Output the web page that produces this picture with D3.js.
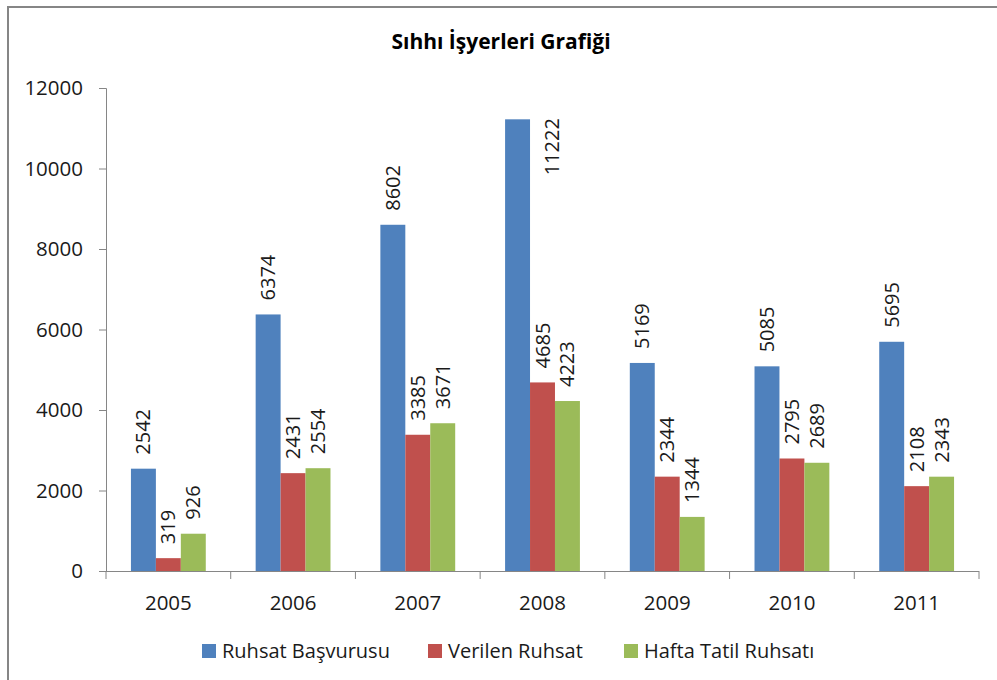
<!DOCTYPE html>
<html>
<head>
<meta charset="utf-8">
<script src="https://cdn.jsdelivr.net/npm/d3@7/dist/d3.min.js"></script>
<style>
    body { margin: 0; background: #fff; }
    text { font-family: "Open Sans", "DejaVu Sans", sans-serif; }
</style>
</head>
<body>
<svg id="chart"></svg>
<script>
// chart data
const years = ["2005", "2006", "2007", "2008", "2009", "2010", "2011"];
const seriesNames = ["Ruhsat Başvurusu", "Verilen Ruhsat", "Hafta Tatil Ruhsatı"];
const ruhsatBasvurusu = [2542, 6374, 8602, 11222, 5169, 5085, 5695];
const verilenRuhsat = [319, 2431, 3385, 4685, 2344, 2795, 2108];
const haftaTatilRuhsati = [926, 2554, 3671, 4223, 1344, 2689, 2343];
const yTicks = [0, 2000, 4000, 6000, 8000, 10000, 12000];
const colors = ["#4F81BD", "#C0504D", "#9BBB59"];

const W = 997, H = 680;
const margin = {top: 88, right: 18, bottom: 109, left: 106};
const width = W - margin.left - margin.right;
const height = H - margin.top - margin.bottom;

const allSeries = [ruhsatBasvurusu, verilenRuhsat, haftaTatilRuhsati];
let rows = [];
years.forEach((yr, i) => {
    seriesNames.forEach((s, j) => {
        rows.push({year: yr, series: s, idx: j, value: allSeries[j][i]});
    });
});

const svg = d3.select("#chart")
    .attr("width", W)
    .attr("height", H);

// outer frame (runs off the right and bottom like the screenshot)
svg.append("rect")
    .attr("x", 8).attr("y", 7)
    .attr("width", 1100).attr("height", 800)
    .attr("fill", "none")
    .attr("stroke", "#868686")
    .attr("stroke-width", 2);

svg.append("text")
    .attr("x", 501)
    .attr("y", 49)
    .attr("text-anchor", "middle")
    .style("font-size", "21px")
    .style("font-weight", "bold")
    .attr("fill", "#000")
    .text("Sıhhı İşyerleri Grafiği");

const g = svg.append("g")
    .attr("transform", `translate(${margin.left},${margin.top})`);

const x0 = d3.scaleBand()
    .domain(years)
    .range([0, width])
    .padding(0);

const x1 = d3.scaleBand()
    .domain(seriesNames)
    .range([x0.bandwidth() * 0.2, x0.bandwidth() * 0.8]);

const y = d3.scaleLinear()
    .domain([0, 12000])
    .range([height, 0]);

// y axis
const yAxis = g.append("g")
    .call(d3.axisLeft(y).tickValues(yTicks).tickSize(7).tickPadding(16).tickFormat(d3.format("d")));
yAxis.selectAll("text").style("font-size", "20.5px").attr("fill", "#1a1a1a");
yAxis.selectAll("line, path").attr("stroke", "#868686");
yAxis.select(".domain").attr("d", `M-7,0.5H0.5V${height}`);

// bars
g.selectAll("rect.bar")
    .data(rows)
    .join("rect")
    .attr("class", "bar")
    .attr("x", d => x0(d.year) + x1(d.series))
    .attr("y", d => y(d.value))
    .attr("width", x1.bandwidth())
    .attr("height", d => height - y(d.value))
    .attr("fill", d => colors[d.idx]);

// x axis, ticks between the categories
const xAxis = g.append("g")
    .attr("transform", `translate(0,${height})`)
    .call(d3.axisBottom(x0).tickSize(0).tickPadding(24));
xAxis.selectAll("text").style("font-size", "20.5px").attr("fill", "#1a1a1a");
xAxis.select(".domain").attr("stroke", "#868686").attr("d", `M0,0.5H${width}`);
xAxis.selectAll("line.sep")
    .data(d3.range(years.length + 1))
    .join("line")
    .attr("class", "sep")
    .attr("x1", i => i * x0.step())
    .attr("x2", i => i * x0.step())
    .attr("y1", 0)
    .attr("y2", 8)
    .attr("stroke", "#868686");

// value labels, rotated
g.selectAll("text.val")
    .data(rows)
    .join("text")
    .attr("class", "val")
    .attr("transform", d => {
        let cx = x0(d.year) + x1(d.series) + x1.bandwidth() / 2;
        let cy = y(d.value) - 14;
        if (cy - 58 < 0) {
            // not enough room above, put it next to the bar
            cx = cx + x1.bandwidth() * 1.4;
            cy = y(d.value) + 56;
        }
        return `translate(${cx},${cy}) rotate(-90)`;
    })
    .attr("dy", "0.35em")
    .attr("text-anchor", "start")
    .style("font-size", "20px")
    .attr("fill", "#1a1a1a")
    .text(d => d.value);

// legend
const legendX = [202, 428, 624];
const legend = svg.append("g");
seriesNames.forEach((s, i) => {
    legend.append("rect")
        .attr("x", legendX[i])
        .attr("y", 644)
        .attr("width", 14)
        .attr("height", 14)
        .attr("fill", colors[i]);
    legend.append("text")
        .attr("x", legendX[i] + 20)
        .attr("y", 658)
        .style("font-size", "20px")
        .attr("fill", "#1a1a1a")
        .text(s);
});
</script>
</body>
</html>
